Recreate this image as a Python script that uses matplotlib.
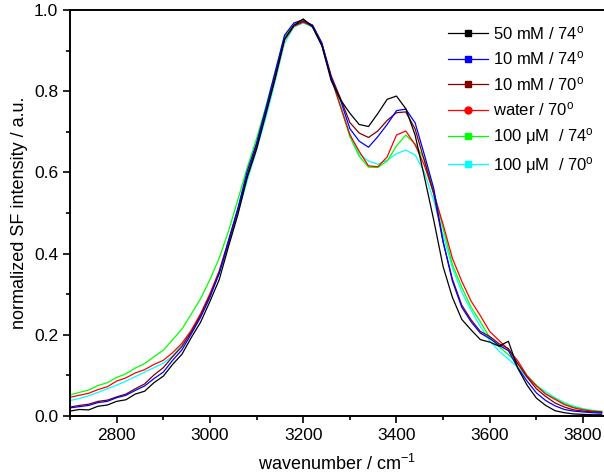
import matplotlib
matplotlib.use("Agg")
import matplotlib.pyplot as plt
from matplotlib.lines import Line2D
from matplotlib.ticker import MultipleLocator
import numpy as np

plt.rcParams['font.family'] = ['Liberation Sans', 'DejaVu Sans']
plt.rcParams['mathtext.fontset'] = 'custom'
plt.rcParams['mathtext.rm'] = 'Liberation Sans'
plt.rcParams['mathtext.it'] = 'Liberation Sans:italic'

# wavenumber grid (cm-1)
wn = np.arange(2700, 3841, 20)

black = [0.012, 0.016, 0.015, 0.024, 0.027, 0.036, 0.040, 0.054, 0.061, 0.082,
         0.098, 0.127, 0.152, 0.193, 0.231, 0.282, 0.336, 0.418, 0.496, 0.588,
         0.657, 0.744, 0.832, 0.928, 0.962, 0.978, 0.958, 0.912, 0.826, 0.779,
         0.746, 0.718, 0.713, 0.745, 0.780, 0.788, 0.757, 0.692, 0.588, 0.482,
         0.368, 0.292, 0.238, 0.212, 0.188, 0.182, 0.172, 0.184, 0.118, 0.076,
         0.044, 0.026, 0.013, 0.008, 0.005, 0.004, 0.003, 0.003]
blue = [0.020, 0.023, 0.026, 0.033, 0.036, 0.045, 0.051, 0.063, 0.074, 0.092,
        0.108, 0.137, 0.163, 0.202, 0.243, 0.292, 0.352, 0.433, 0.512, 0.603,
        0.672, 0.758, 0.848, 0.938, 0.968, 0.976, 0.962, 0.918, 0.832, 0.778,
        0.708, 0.677, 0.662, 0.688, 0.718, 0.752, 0.756, 0.722, 0.643, 0.560,
        0.430, 0.332, 0.268, 0.232, 0.204, 0.191, 0.174, 0.161, 0.119, 0.086,
        0.057, 0.038, 0.025, 0.016, 0.012, 0.010, 0.008, 0.007]
brown = [0.022, 0.026, 0.029, 0.036, 0.039, 0.047, 0.054, 0.067, 0.079, 0.101,
         0.119, 0.146, 0.171, 0.207, 0.248, 0.297, 0.353, 0.427, 0.508, 0.592,
         0.668, 0.752, 0.838, 0.929, 0.962, 0.972, 0.963, 0.919, 0.838, 0.782,
         0.723, 0.697, 0.686, 0.702, 0.728, 0.747, 0.749, 0.707, 0.628, 0.547,
         0.428, 0.337, 0.273, 0.237, 0.208, 0.196, 0.178, 0.166, 0.129, 0.096,
         0.067, 0.048, 0.032, 0.022, 0.015, 0.012, 0.010, 0.009]
red = [0.046, 0.051, 0.056, 0.065, 0.072, 0.086, 0.094, 0.106, 0.114, 0.127,
       0.137, 0.156, 0.179, 0.211, 0.252, 0.301, 0.358, 0.432, 0.508, 0.592,
       0.663, 0.747, 0.833, 0.926, 0.960, 0.970, 0.960, 0.914, 0.833, 0.762,
       0.693, 0.652, 0.616, 0.614, 0.638, 0.692, 0.702, 0.668, 0.617, 0.548,
       0.472, 0.388, 0.332, 0.283, 0.247, 0.208, 0.186, 0.164, 0.136, 0.099,
       0.074, 0.054, 0.041, 0.028, 0.020, 0.015, 0.012, 0.010]
green = [0.052, 0.058, 0.064, 0.075, 0.082, 0.095, 0.104, 0.118, 0.129, 0.146,
         0.162, 0.188, 0.214, 0.251, 0.289, 0.336, 0.389, 0.456, 0.533, 0.612,
         0.683, 0.762, 0.848, 0.934, 0.965, 0.973, 0.960, 0.914, 0.833, 0.762,
         0.688, 0.640, 0.613, 0.612, 0.628, 0.665, 0.692, 0.670, 0.632, 0.553,
         0.462, 0.373, 0.317, 0.268, 0.232, 0.193, 0.171, 0.151, 0.129, 0.099,
         0.076, 0.055, 0.043, 0.030, 0.022, 0.017, 0.013, 0.011]
cyan = [0.038, 0.043, 0.050, 0.058, 0.067, 0.076, 0.086, 0.097, 0.108, 0.119,
        0.130, 0.148, 0.175, 0.207, 0.250, 0.298, 0.350, 0.420, 0.500, 0.580,
        0.655, 0.735, 0.825, 0.918, 0.958, 0.968, 0.958, 0.912, 0.835, 0.765,
        0.695, 0.645, 0.628, 0.620, 0.630, 0.646, 0.655, 0.643, 0.600, 0.530,
        0.445, 0.365, 0.305, 0.260, 0.220, 0.185, 0.160, 0.140, 0.120, 0.095,
        0.075, 0.060, 0.045, 0.033, 0.024, 0.018, 0.014, 0.012]

labels = ["50 mM / 74$^\\mathrm{o}$", "10 mM / 74$^\\mathrm{o}$", "10 mM / 70$^\\mathrm{o}$",
          "water / 70$^\\mathrm{o}$", "100 \u03bcM  / 74$^\\mathrm{o}$", "100 \u03bcM  / 70$^\\mathrm{o}$"]
colors = ["#000000", "#0000FF", "#800000", "#FF0000", "#00FF00", "#00FFFF"]
markers = ["s", "s", "s", "o", "s", "s"]
series = [black, blue, brown, red, green, cyan]

fig = plt.figure(figsize=(6.04, 4.74), dpi=100)
ax = fig.add_axes([0.1159, 0.1224, 0.8841, 0.8565])

# draw back to front so black ends on top like the original
for s, c in zip(series[::-1], colors[::-1]):
    ax.plot(wn, s, '-', color=c, linewidth=0.9)

handles = [Line2D([], [], color=c, marker=m, markersize=5, linewidth=0.9)
           for c, m in zip(colors, markers)]
ax.legend(handles, labels, loc='upper right', frameon=False, fontsize=12,
          handlelength=2.4, handletextpad=0.3, labelspacing=0.45,
          bbox_to_anchor=(1.0, 0.99), borderaxespad=0.2)

ax.set_xlim(2700, 3845)
ax.set_ylim(0, 1.0)
ax.xaxis.set_major_locator(MultipleLocator(200))
ax.xaxis.set_minor_locator(MultipleLocator(100))
ax.yaxis.set_major_locator(MultipleLocator(0.2))
ax.yaxis.set_minor_locator(MultipleLocator(0.1))
ax.yaxis.set_major_formatter(plt.FormatStrFormatter('%.1f'))
ax.tick_params(which='both', direction='out', top=False, right=False, labelsize=12.5, width=1.2)
ax.tick_params(which='major', length=5)
ax.tick_params(which='minor', length=3)
ax.spines['right'].set_visible(False)
for sp in ['left', 'bottom', 'top']:
    ax.spines[sp].set_linewidth(1.4)

ax.set_xlabel("wavenumber / cm$^{-1}$", fontsize=13, labelpad=8)
ax.set_ylabel("normalized SF intensity / a.u.", fontsize=13)

plt.savefig("out.png", dpi=100)
